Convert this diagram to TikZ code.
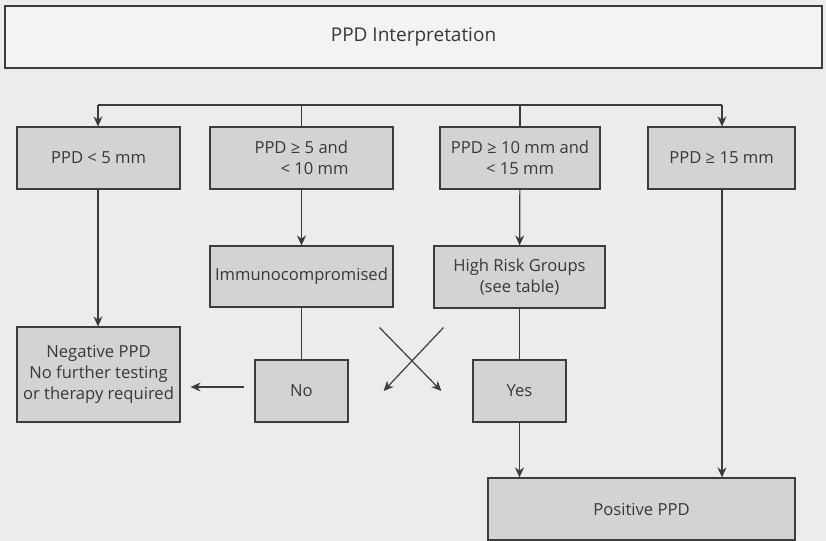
\documentclass[tikz,border=0pt]{standalone}
\usepackage{fontspec}
\setmainfont{Open Sans}
\usepackage{xcolor}
\usetikzlibrary{
    arrows.meta,
    positioning
}
\definecolor{pagegray}{HTML}{ECECEC}
\definecolor{boxgray}{HTML}{D3D3D3}
\definecolor{titlegray}{HTML}{F3F3F3}
\definecolor{linegray}{HTML}{3C3C3C}
\definecolor{inkgray}{HTML}{383838}

\begin{document}
\begin{tikzpicture}[
        x=0.5pt, y=-0.5pt,
        >={Stealth[length=5pt,width=4.5pt]},
        link/.style={
            draw=linegray,
            line width=0.6pt
        },
        box/.style={
            draw=linegray,
            fill=boxgray,
            line width=0.6pt,
            text=inkgray,
            align=center,
            inner sep=0pt,
            minimum height=31pt,
            font=\fontsize{8.3}{10.6}\selectfont
        }
    ]
        \fill[pagegray] (0,0) rectangle (826,541);

        \node[box, fill=titlegray, minimum width=408.5pt,
              font=\fontsize{9.5}{11}\selectfont] (title) at (413.5,37) {PPD Interpretation};

        \node[box, minimum width=81.5pt] (lt5) at (98.5,158) {PPD < 5 mm};
        \node[box, minimum width=91.5pt, align=left] (lt10) at (301.5,158) {PPD ≥ 5 and\\\hspace*{13pt}< 10 mm};
        \node[box, minimum width=80pt] (lt15) at (520,158) {PPD ≥ 10 mm and\\< 15 mm};
        \node[box, minimum width=73.5pt] (ge15) at (721.5,158) {PPD ≥ 15 mm};

        \node[box, minimum width=91.5pt, minimum height=30.5pt] (immuno) at (301.5,276.5) {Immunocompromised};
        \node[box, minimum width=85.5pt] (risk) at (519.5,277) {High Risk Groups\\(see table)};

        \node[box, minimum width=81.5pt, minimum height=47.5pt] (neg) at (98.5,374.5) {Negative PPD\\No further testing\\or therapy required};
        \node[box, minimum width=46.5pt] (no) at (301.5,391) {No};
        \node[box, minimum width=46.5pt] (yes) at (519.5,391) {Yes};
        \node[box, minimum width=153.5pt] (pos) at (641.5,509) {Positive PPD};

        \coordinate (busL) at (98,105);
        \coordinate (busR) at (722,105);
        \draw[link] (busL) -- (busR);
        \draw[link, ->] (busL) -- (busL |- lt5.north);
        \draw[link, ->] (busR) -- (busR |- ge15.north);
        \draw[link] (lt10.north) -- (lt10.north |- busL);
        \draw[link] (lt15.north) -- (lt15.north |- busL);

        \draw[link, ->] (busL |- lt5.south) -- (busL |- neg.north);
        \draw[link, ->] (lt10) -- (immuno);
        \draw[link, ->] (lt15) -- (risk);
        \draw[link] (immuno) -- (no);
        \draw[link] (risk) -- (yes);
        \coordinate (noOut) at ([shift={(0,-4)}]no.west);
        \draw[link, ->, shorten <=5pt, shorten >=5pt] (noOut) -- (noOut -| neg.east);
        \draw[link, ->] (yes.south) -- (yes.south |- pos.north);
        \draw[link, ->] (busR |- ge15.south) -- (busR |- pos.north);

        % crossing arrows
        \draw[link, ->] ([shift={(-14,20)}]immuno.south east) -- ([shift={(-31,0)}]yes.west);
        \draw[link, ->] ([shift={(10,19)}]risk.south west) -- ([shift={(35,0)}]no.east);
    \end{tikzpicture}
\end{document}
